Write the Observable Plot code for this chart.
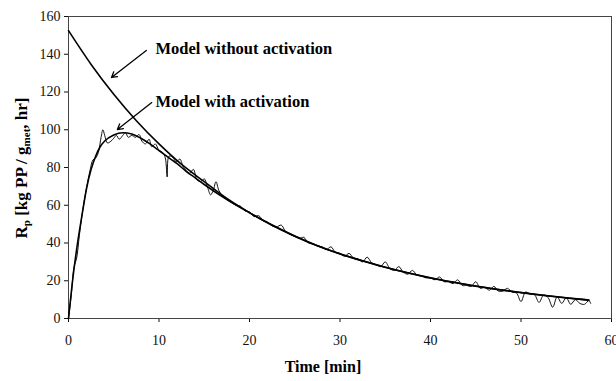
<!DOCTYPE html>
<html><head><meta charset="utf-8">
<script src="https://cdn.jsdelivr.net/npm/d3@7"></script>
<script src="https://cdn.jsdelivr.net/npm/@observablehq/plot@0.6"></script>
<style>body{margin:0;background:#fff}</style>
</head><body><div id="chart"></div>
<script>
// Experimental data (time [min], Rp)
const expT = [0,0.3,0.6,0.9,1.2,1.5,1.8,2.1,2.4,2.7,3.0,3.3,3.6,3.8,4.0,4.3,4.7,5.0,5.3,5.6,6.0,6.3,6.6,7.0,7.4,7.8,8.1,8.5,8.9,9.2,9.6,10.0,10.4,10.7,10.9,11.1,11.5,11.9,12.3,12.7,13.0,13.4,13.8,14.2,14.6,15.0,15.4,15.7,16.0,16.3,16.6,17.0,17.5,
  18,18.5,19,19.5,20,20.5,21,21.5,22,22.5,23,23.5,24,24.5,25,25.5,26,26.5,27,27.5,28,28.5,29,29.5,30,30.5,31,31.5,32,32.5,33,33.5,34,34.5,35,35.5,36,36.5,37,37.5,38,38.5,39,39.5,40,40.5,41,41.5,42,42.5,43,43.5,44,44.5,45,45.5,46,46.5,47,47.5,48,48.5,49,49.5,50,50.5,51,51.5,52,52.5,53,53.5,54,54.5,55,55.5,56,56.5,57,57.5,57.7];
const expV = [0,12,27,32,44,55,64,72,79,84,85,88,96,100,97,93,94,95.5,97,95,97,98.5,96,97,96,97.5,94,92.5,95,91,92.5,89,88,85,75,86,85.5,83,84.5,80,78.5,77,79,73.5,72.5,74,69,65.5,68,72.5,68,65,63,
  61.5,60,59.5,57,56.5,54,54.5,52,51,49,48.5,49.5,46,44.5,43.5,42.5,43,40,39.5,38.5,38,36.5,38,35,34.5,33,34.5,32,31.5,30,32.5,29.5,28.5,27.5,30,26.5,25.5,27.5,24.5,23.5,25.5,23,22.5,21.5,21.5,20.5,22,19.5,19.5,18.5,20.5,17.5,17.5,17,19.5,16,16.5,15,17,14.5,14.5,16,14,13.5,9,14,13,12.5,8.5,12.5,11,6,11.5,8,11,7.5,10,8,7.5,9.5,8];

// Model without activation
const noActT = [0,2.5,5,7.5,10,12.5,15,17.5,20,22.5,25,27.5,30,32.5,35,37.5,40,42.5,45,47.5,50,52.5,55,57.5];
const noActV = [152.5,134.6,118.8,104.8,92.5,81.6,72.5,63.6,56.1,49.5,43.7,38.6,34.3,30.6,27.2,24.2,21.6,19.3,17.2,15.4,13.8,12.3,11.0,9.8];

// Model with activation
const actT = [0,0.5,1,1.5,2,2.5,3,3.5,4,5,6,7,8,9,10,11,12,13,14,15,17.5,20,22.5,25,27.5,30,32.5,35,37.5,40,42.5,45,47.5,50,52.5,55,57.5];
const actV = [0,22,40,55,69,79,86,91,94,97.2,98.4,97.8,95.5,92.5,89,85.5,82,78,74.5,71,63,56,49.4,43.6,38.5,34.2,30.5,27.1,24.1,21.5,19.2,17.1,15.3,13.7,12.2,10.9,9.7];

const xTicks = [0,10,20,30,40,50,60];
const yTicks = [0,20,40,60,80,100,120,140,160];

const labelText = ["Model without activation","Model with activation"];
const labelT = [9.6,9.6];
const labelV = [143,115];
const arrowT1 = [8.6,9.2];
const arrowV1 = [142,114.4];
const arrowT2 = [4.75,5.4];
const arrowV2 = [127.7,100.1];

const exp = expT.map((t,i)=>({t, v: expV[i]}));
const noAct = noActT.map((t,i)=>({t, v: noActV[i]}));
const act = actT.map((t,i)=>({t, v: actV[i]}));
const labels = labelText.map((s,i)=>({s, t: labelT[i], v: labelV[i]}));
const arrows = arrowT1.map((t,i)=>({x1: t, y1: arrowV1[i], x2: arrowT2[i], y2: arrowV2[i]}));

const serif = "'Liberation Serif','Times New Roman',serif";

const svg = Plot.plot({
  width: 616, height: 381,
  marginLeft: 68, marginRight: 5, marginTop: 16, marginBottom: 63,
  style: {fontFamily: serif, fontSize: "14px", color: "#111", background: "#fff"},
  x: {domain: [0,60], ticks: xTicks, tickSize: 4, tickPadding: 13, label: null},
  y: {domain: [0,160], ticks: yTicks, tickSize: 4, tickPadding: 4, label: null},
  marks: [
    Plot.frame({stroke: "#444", strokeWidth: 1}),
    Plot.line(exp, {x: "t", y: "v", curve: "catmull-rom", stroke: "#111", strokeWidth: 1}),
    Plot.line(act, {x: "t", y: "v", curve: "monotone-x", stroke: "#000", strokeWidth: 1.6}),
    Plot.line(noAct, {x: "t", y: "v", curve: "monotone-x", stroke: "#000", strokeWidth: 1.6}),
    Plot.arrow(arrows, {x1: "x1", y1: "y1", x2: "x2", y2: "y2", stroke: "#000", strokeWidth: 1.3, headLength: 7}),
    Plot.text(labels, {x: "t", y: "v", text: "s", textAnchor: "start", fontWeight: "bold", fontSize: 16.5, fill: "#000"})
  ]
});

const s = d3.select(svg);
const yl = s.append("text")
  .attr("transform", "translate(27,168) rotate(-90)")
  .attr("text-anchor", "middle")
  .attr("font-family", serif)
  .attr("font-weight", "bold")
  .attr("font-size", 17)
  .attr("fill", "#000");
yl.append("tspan").text("R");
yl.append("tspan").attr("dy", 3).attr("font-size", 11).text("p");
yl.append("tspan").attr("dy", -3).text(" [kg PP / g");
yl.append("tspan").attr("dy", 3).attr("font-size", 11).text("met");
yl.append("tspan").attr("dy", -3).text(", hr]");

s.append("text")
  .attr("x", 323).attr("y", 372)
  .attr("text-anchor", "middle")
  .attr("font-family", serif)
  .attr("font-weight", "bold")
  .attr("font-size", 16)
  .attr("fill", "#000")
  .text("Time [min]");

document.getElementById("chart").appendChild(svg);
</script>
</body></html>
